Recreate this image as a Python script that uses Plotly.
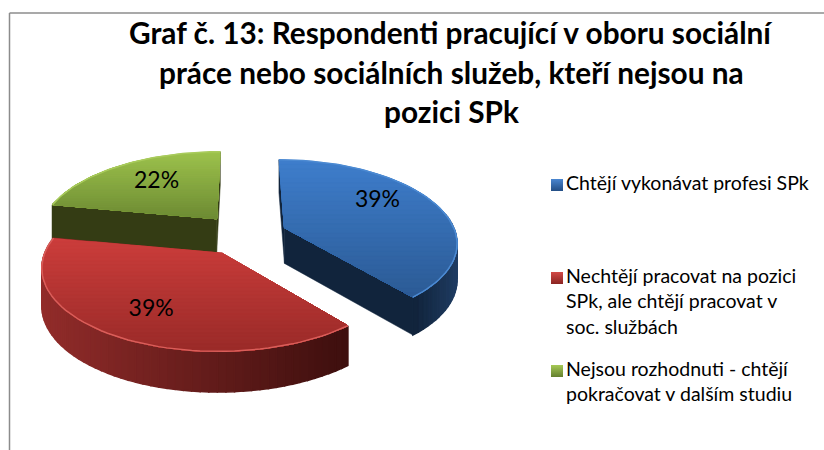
import numpy as np
import plotly.graph_objects as go

# ---- data ----
categories = ["Chtějí vykonávat profesi SPk",
              "Nechtějí pracovat na pozici<br>SPk, ale chtějí pracovat v<br>soc. službách",
              "Nejsou rozhodnuti - chtějí<br>pokračovat v dalším studiu"]
values = [39, 39, 22]
title_lines = ["Graf č. 13: Respondenti pracující v oboru sociální",
               "práce nebo sociálních služeb, kteří nejsou na",
               "pozici SPk"]

# ---- styles ----
FONT = "Lato, Carlito, Calibri, sans-serif"
top_colors = [("#3E7DCB", "#2B5A94"), ("#CB3D3B", "#992A28"), ("#9DC24C", "#6C8A33")]
side_colors = [("#1F3C62", "#11243C"), ("#922C2A", "#3E0F0E"), ("#343C14", "#343C14")]
rim_colors = ["#4C8AD2", "#DA5E5A", "#A9CB5C"]
marker_colors = [("#4A86D0", "#234E85"), ("#D24A46", "#8A2422"), ("#A6C955", "#64802E")]
label_offsets = [(93, -27), (-71, 57), (-60, -37)]
x_stretch = [0.98, 0.98, 1.017]

# ---- projection ----
Cx, Cy, E, T = 244.0, 235.0, 43.0, 0.49
R, RT, P, D = 175.0, 80.0, 0.158, 36.0


def hexrgb(h):
    return np.array([int(h[i:i + 2], 16) for i in (1, 3, 5)], float)


def mix(a, b, t):
    c = hexrgb(a) * (1 - t) + hexrgb(b) * t
    return "rgb(%d,%d,%d)" % tuple(c.round())


def proj(ax, ay, theta, s, sx):
    """Rim point of a slice with apex (ax, ay) and scale s; theta clockwise from 12 o'clock."""
    X, Z = np.sin(theta), -np.cos(theta)
    w = 1 / (1 - P * Z)
    return ax + s * sx * R * X * w + (ax - Cx) * (w - 1), ay + s * RT * Z * w, w


def clip_below(poly, y0):
    out = []
    n = len(poly)
    for i in range(n):
        a, b = poly[i], poly[(i + 1) % n]
        if a[1] >= y0:
            out.append(a)
        if (a[1] >= y0) != (b[1] >= y0):
            t = (y0 - a[1]) / (b[1] - a[1])
            out.append((a[0] + t * (b[0] - a[0]), y0))
    return out


def add_poly(fig, poly, color, lw=0.5):
    xs = [p[0] for p in poly] + [poly[0][0]]
    ys = [p[1] for p in poly] + [poly[0][1]]
    fig.add_trace(go.Scatter(x=xs, y=ys, fill="toself", fillcolor=color, mode="lines",
                             line=dict(color=color, width=lw), hoverinfo="skip", showlegend=False))


fig = go.Figure()

fracs = np.array(values) / sum(values)
ends = np.cumsum(fracs) * 2 * np.pi
starts = ends - fracs * 2 * np.pi
labels = []

for i in [2, 0, 1]:  # painter's order: green, blue, red
    a0, a1 = starts[i], ends[i]
    mid = (a0 + a1) / 2
    ax, ay = Cx + E * np.sin(mid), Cy - E * T * np.cos(mid)
    s = 1 / (1 - P * (E / R) * (-np.cos(mid)))  # exploded slices nearer the viewer look larger
    thetas = np.linspace(a0, a1, 61)
    rim = [proj(ax, ay, t, s, x_stretch[i]) for t in thetas]
    depth = lambda w: D * np.sqrt(w) * s
    w0 = 1.0

    # cut faces
    for t in (a0, a1):
        x, y, w = proj(ax, ay, t, s, x_stretch[i])
        add_poly(fig, [(ax, ay), (x, y), (x, y + depth(w)), (ax, ay + depth(w0))],
                 side_colors[i][1] if i != 2 else side_colors[2][0])

    # outer wall, facing the viewer
    vis = [k for k, t in enumerate(thetas) if -np.cos(t) > -0.2 and k + 1 < len(thetas)]
    if vis:
        xs = [rim[k][0] for k in vis]
        lo, hi = min(xs), max(xs)
        for k in vis:
            p, q = rim[k], rim[k + 1]
            tt = (p[0] - lo) / (hi - lo + 1e-9)
            add_poly(fig, [(p[0], p[1]), (q[0], q[1]), (q[0], q[1] + depth(q[2])), (p[0], p[1] + depth(p[2]))],
                     mix(*side_colors[i], tt if i != 0 else 1 - tt), lw=1.5)

    # top face with a vertical gradient
    poly = [(ax, ay)] + [(p[0], p[1]) for p in rim]
    ymin, ymax = min(p[1] for p in poly), max(p[1] for p in poly)
    for y0 in np.linspace(ymin, ymax, 30, endpoint=False):
        clipped = clip_below(poly, y0)
        if len(clipped) >= 3:
            add_poly(fig, clipped, mix(*top_colors[i], (y0 - ymin) / (ymax - ymin)))

    # highlighted rim
    fig.add_trace(go.Scatter(x=[p[0] for p in rim], y=[p[1] for p in rim], mode="lines",
                             line=dict(color=rim_colors[i], width=1.5), hoverinfo="skip", showlegend=False))
    labels.append((ax + label_offsets[i][0], ay + label_offsets[i][1], f"{values[i]}%"))

# slice labels
fig.add_trace(go.Scatter(x=[l[0] for l in labels], y=[l[1] for l in labels], text=[l[2] for l in labels],
                         mode="text", textposition="middle center",
                         textfont=dict(family=FONT, size=23, color="#000000"),
                         hoverinfo="skip", showlegend=False))

# legend
legend_y = [184, 277, 370]
for name, y, c in zip(categories, legend_y, marker_colors):
    fig.add_trace(go.Scatter(x=[557], y=[y + 1], mode="markers", hoverinfo="skip", showlegend=False,
                             marker=dict(symbol="square", size=12, color=c[0],
                                         gradient=dict(type="vertical", color=c[1]))))
    fig.add_annotation(x=564, y=y - 15, xref="x", yref="y", text=name, showarrow=False,
                       xanchor="left", yanchor="top", align="left",
                       font=dict(family=FONT, size=19.5, color="#000000"))

# title
for line, y in zip(title_lines, [32.5, 72.5, 111.5]):
    fig.add_annotation(x=451, y=y, xref="x", yref="y", text=f"<b>{line}</b>", showarrow=False,
                       xanchor="center", yanchor="middle",
                       font=dict(family=FONT, size=29.8, color="#000000"))

# frame
for sh in (dict(x0=9.5, y0=13, x1=9.5, y1=450), dict(x0=9.5, y0=13, x1=824, y1=13)):
    fig.add_shape(type="line", xref="x", yref="y", line=dict(color="#8C8C8C", width=1.5), **sh)

fig.update_layout(width=824, height=450, margin=dict(l=0, r=0, t=0, b=0),
                  paper_bgcolor="white", plot_bgcolor="white", showlegend=False,
                  xaxis=dict(range=[0, 824], visible=False, fixedrange=True),
                  yaxis=dict(range=[450, 0], visible=False, fixedrange=True))
fig.write_html("out.html", config={"displayModeBar": False},
               post_script="document.body.style.margin='0';document.documentElement.style.overflow='hidden';")
